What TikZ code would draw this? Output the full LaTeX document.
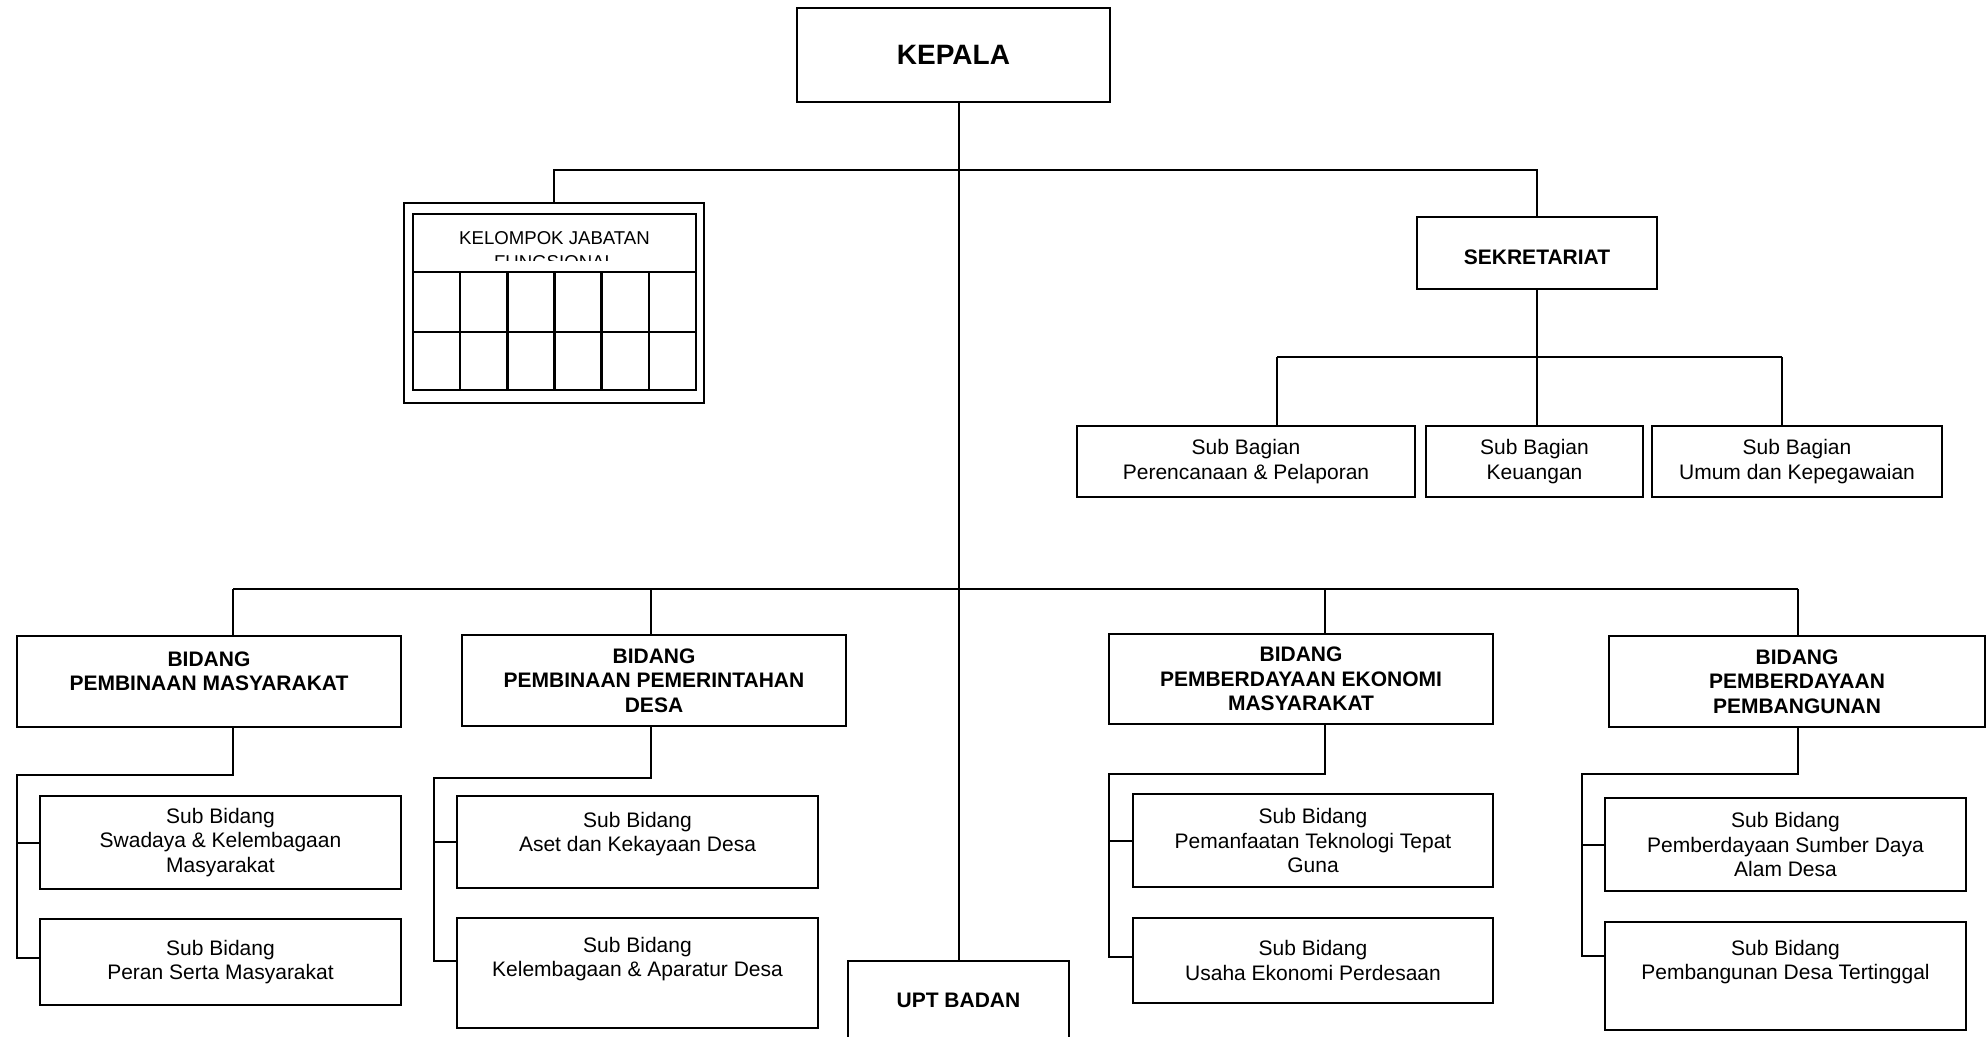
\documentclass[tikz,border=0pt]{standalone}
\usepackage{fontspec}
\setmainfont{Liberation Sans}
\usepackage{tikz}
\newcommand{\pxl}[1]{#1*0.5pt}
\tikzset{
	unit/.style={draw, line width=1pt, inner sep=0pt, align=center, font=\fontsize{10.5}{12.2}\selectfont},
	head/.style={unit, font=\fontsize{10.5}{12.2}\selectfont\bfseries},
	link/.style={line width=1pt},
}

\begin{document}
\begin{tikzpicture}[x=0.5pt, y=-0.5pt]
		\useasboundingbox (0,0) rectangle (1986,1037);
		
		%KEPALA
		\node[head, font=\fontsize{14}{16}\selectfont\bfseries, minimum width=\pxl{313}, minimum height=\pxl{94}] (kepala) at (953.5,55) {KEPALA};
		\node[head, minimum width=\pxl{221}, minimum height=\pxl{78}] (upt) at (958.5,1000) {UPT BADAN};
		
		%KELOMPOK JABATAN FUNGSIONAL
		\node[draw, line width=1.3pt, inner sep=0pt, minimum width=\pxl{300}, minimum height=\pxl{200}] (kjf) at (554,303) {};
		\begin{scope}
			\clip (413,214) rectangle (696,261);
			\node[anchor=north, inner sep=0pt, align=center, font=\fontsize{9.3}{12}\selectfont] (kjftext) at (554.5,231) {KELOMPOK JABATAN\\FUNGSIONAL};
		\end{scope}
		\draw[line width=1.3pt] (413,214) rectangle (696,390);
		\draw[line width=1.3pt] (413,272) -- (696,272);
		\draw[line width=1.3pt] (413,332) -- (696,332);
		\foreach \k in {1,...,5}
			\draw[line width=1.3pt] (413+\k*47.17,272) -- (413+\k*47.17,390);
		
		%SEKRETARIAT
		\node[head, minimum width=\pxl{240}, minimum height=\pxl{72}] (sek) at (1537,253) {\raisebox{-2pt}[\height][0pt]{SEKRETARIAT}};
		\node[unit, minimum width=\pxl{338}, minimum height=\pxl{71}] (sb1) at (1246,461.5) {Sub Bagian\\Perencanaan \& Pelaporan};
		\node[unit, minimum width=\pxl{217}, minimum height=\pxl{71}] (sb2) at (1534.5,461.5) {Sub Bagian\\Keuangan};
		\node[unit, minimum width=\pxl{290}, minimum height=\pxl{71}] (sb3) at (1797,461.5) {Sub Bagian\\Umum dan Kepegawaian};
		
		%BIDANG
		\node[head, minimum width=\pxl{384}, minimum height=\pxl{91}] (bidA) at (209,681.5) {BIDANG\\PEMBINAAN MASYARAKAT\\[-2pt]\mbox{}};
		\node[head, minimum width=\pxl{384}, minimum height=\pxl{91}] (bidB) at (654,680.5) {BIDANG\\PEMBINAAN PEMERINTAHAN\\DESA};
		\node[head, minimum width=\pxl{384}, minimum height=\pxl{90}] (bidC) at (1301,679) {BIDANG\\PEMBERDAYAAN EKONOMI\\MASYARAKAT};
		\node[head, minimum width=\pxl{376}, minimum height=\pxl{91}] (bidD) at (1797,681.5) {BIDANG\\PEMBERDAYAAN\\PEMBANGUNAN};
		
		%SUB BIDANG
		\node[unit, minimum width=\pxl{361}, minimum height=\pxl{93}] (subA1) at (220.5,842.5) {Sub Bidang\\Swadaya \& Kelembagaan\\Masyarakat};
		\node[unit, minimum width=\pxl{361}, minimum height=\pxl{86}] (subA2) at (220.5,962) {Sub Bidang\\Peran Serta Masyarakat};
		\node[unit, minimum width=\pxl{361}, minimum height=\pxl{92}] (subB1) at (637.5,842) {Sub Bidang\\Aset dan Kekayaan Desa\\[-2pt]\mbox{}};
		\node[unit, minimum width=\pxl{361}, minimum height=\pxl{110}] (subB2) at (637.5,973) {Sub Bidang\\Kelembagaan \& Aparatur Desa\\\strut};
		\node[unit, minimum width=\pxl{360}, minimum height=\pxl{93}] (subC1) at (1313,840.5) {Sub Bidang\\Pemanfaatan Teknologi Tepat\\Guna};
		\node[unit, minimum width=\pxl{360}, minimum height=\pxl{85}] (subC2) at (1313,960.5) {Sub Bidang\\Usaha Ekonomi Perdesaan};
		\node[unit, minimum width=\pxl{361}, minimum height=\pxl{93}] (subD1) at (1785.5,844.5) {Sub Bidang\\Pemberdayaan Sumber Daya\\Alam Desa};
		\node[unit, minimum width=\pxl{361}, minimum height=\pxl{108}] (subD2) at (1785.5,976) {Sub Bidang\\Pembangunan Desa Tertinggal\\\strut};
		
		%LINEE
		\coordinate (bar1) at (0,170);
		\coordinate (jb1) at (1277,357);
		\coordinate (jb3) at (1782,357);
		\coordinate (dA) at (233,589);
		\coordinate (dB) at (651,589);
		\coordinate (dC) at (1325,589);
		\coordinate (dD) at (1798,589);
		\coordinate (sA) at (17,775);
		\coordinate (sB) at (434,778);
		\coordinate (sC) at (1109,774);
		\coordinate (sD) at (1582,774);
		
		\draw[link] (kepala.south -| upt.north) -- (upt.north);
		\draw[link] (kjf.north) |- (bar1 -| sek.north) -- (sek.north);
		
		\draw[link] (sek.south) -- (sek.south |- sb2.north);
		\draw[link] (jb1) -- (jb3);
		\draw[link] (jb1) -- (jb1 |- sb1.north);
		\draw[link] (jb3) -- (jb3 |- sb3.north);
		
		\draw[link] (dA) -- (dD);
		\foreach \n/\sh in {A/2pt, B/6pt, C/2pt, D/10pt} {
			\draw[link] (d\n) -- (d\n |- bid\n.north);
			\draw[link] (bid\n.south -| d\n) |- (s\n) |- ([yshift=\sh]sub\n2.west);
			\draw[link] (s\n |- sub\n1.west) -- (sub\n1.west);
		}
		
	\end{tikzpicture}
\end{document}
